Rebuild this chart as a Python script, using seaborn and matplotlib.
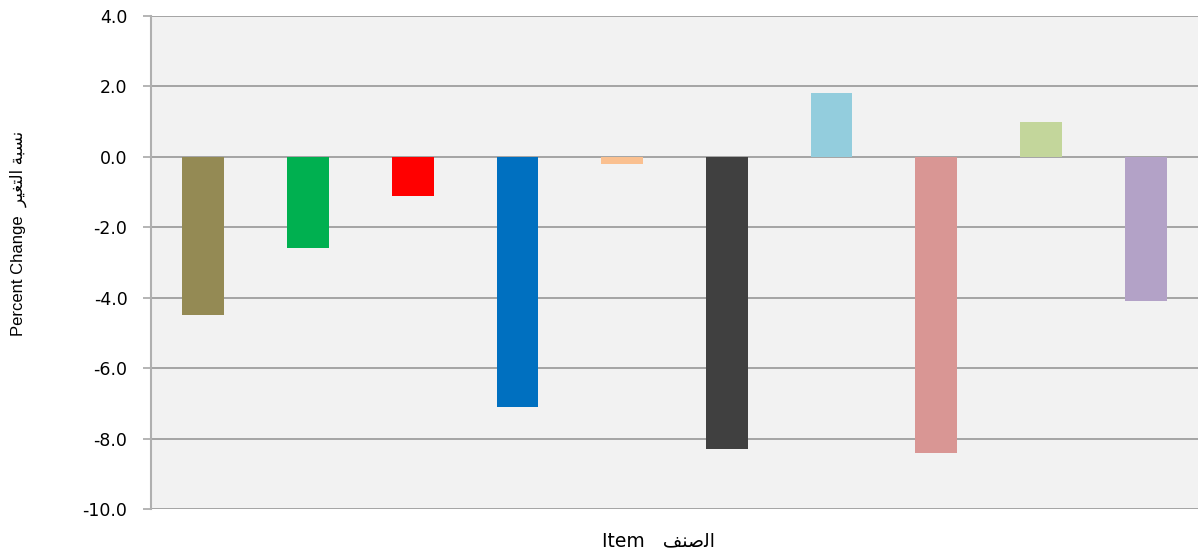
import matplotlib
matplotlib.use("Agg")
import matplotlib.pyplot as plt
import seaborn as sns
import pandas as pd

# Ten items, percent change
items = ["1", "2", "3", "4", "5", "6", "7", "8", "9", "10"]
changes = [-4.5, -2.6, -1.1, -7.1, -0.2, -8.3, 1.8, -8.4, 1.0, -4.1]
colors = ["#948A54", "#00B050", "#FF0000", "#0070C0", "#FAC090",
          "#404040", "#93CDDD", "#D99694", "#C3D69B", "#B3A2C7"]
y_ticks = [4.0, 2.0, 0.0, -2.0, -4.0, -6.0, -8.0, -10.0]

# Arabic labels written in presentation forms so they join correctly
ar_item = "\uFED2\uFEE8\uFEBB\uFEDF\uFE8D"  # الصنف
ar_change = "\uFEAE\uFEF4\uFED0\uFE98\uFEDF\uFE8D \uFE94\uFE92\uFEB4\uFEE7"  # نسبة التغير

df = pd.DataFrame({"item": items, "change": changes})

sns.set_theme(style="white")
plt.rcParams["font.family"] = ["DejaVu Sans"]

fig = plt.figure(figsize=(11.98, 5.53), dpi=100)
ax = fig.add_axes([151 / 1198, 44 / 553, 1 - 151 / 1198, (509 - 16) / 553])
ax.set_facecolor("#F2F2F2")

sns.barplot(data=df, x="item", y="change", hue="item", palette=colors,
            legend=False, width=0.4, saturation=1, linewidth=0,
            ax=ax, zorder=3)

ax.set_ylim(-10, 4)
ax.set_xlim(-0.5, len(items) - 0.5)
ax.set_yticks(y_ticks)
ax.set_yticklabels([f"{v:.1f}" for v in y_ticks], fontsize=12.5, color="#000000")
ax.set_xticks([])

ax.yaxis.grid(True, color="#9E9E9E", linewidth=1.3, zorder=0)
ax.set_axisbelow(True)
ax.tick_params(axis="y", which="major", left=True, length=6, width=1.2,
               color="#A8A8A8", pad=11)

for side in ["top", "right", "bottom"]:
    ax.spines[side].set_visible(False)
ax.spines["left"].set_color("#B0B0B0")
ax.spines["left"].set_linewidth(1.5)

ax.set_xlabel("Item   " + ar_item, fontsize=13.5, color="#000000")
ax.xaxis.set_label_coords(0.485, -0.045)
ax.set_ylabel("Percent Change  " + ar_change, fontsize=12, color="#000000",
              family=["Liberation Sans", "DejaVu Sans"])
ax.yaxis.set_label_coords(-0.118, 0.56)

fig.savefig("out.png", dpi=100)
